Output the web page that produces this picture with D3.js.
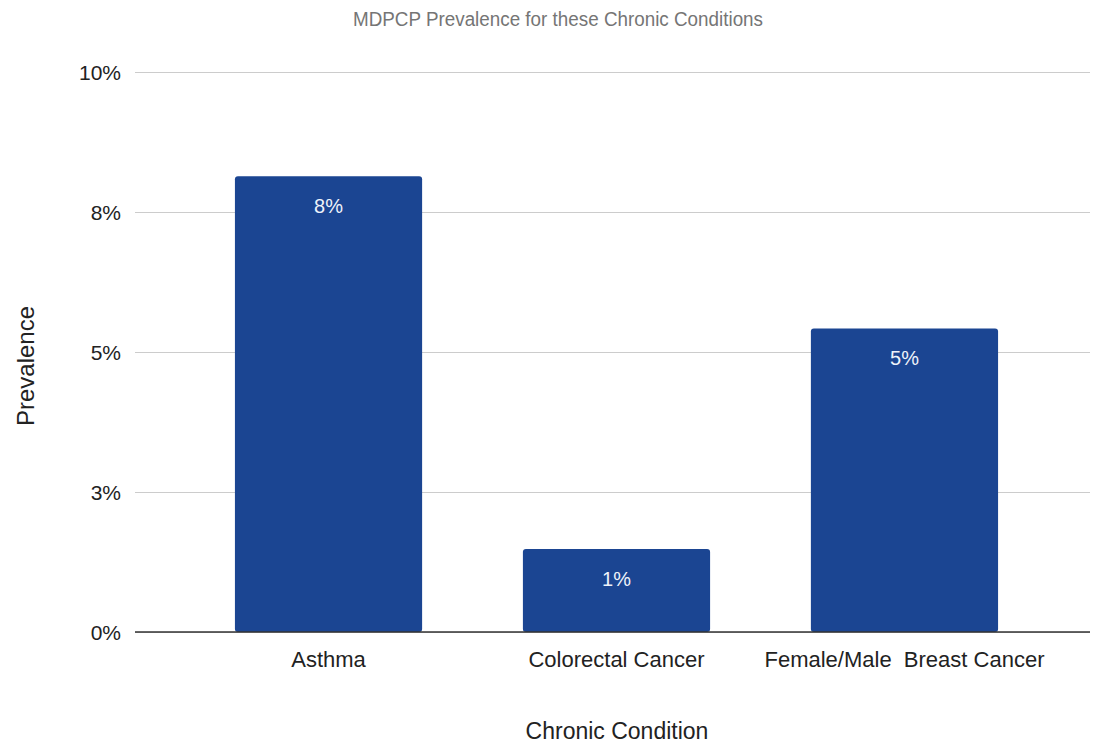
<!DOCTYPE html>
<html>
<head>
<meta charset="utf-8">
<script src="https://cdn.jsdelivr.net/npm/d3@7"></script>
<style>
  html, body { margin: 0; padding: 0; background: #fff; }
  svg { display: block; font-family: "Liberation Sans", Arial, sans-serif; }
</style>
</head>
<body>
<svg id="chart" width="1100" height="746"></svg>
<script>
const categories = ["Asthma", "Colorectal Cancer", "Female/Male  Breast Cancer"];
const values = [8.14, 1.48, 5.42];
const valueLabels = ["8%", "1%", "5%"];
const yTicks = [0, 2.5, 5, 7.5, 10];
const yTickLabels = ["0%", "3%", "5%", "8%", "10%"];
const title = "MDPCP Prevalence for these Chronic Conditions";
const xTitle = "Chronic Condition";
const yTitle = "Prevalence";

const svg = d3.select("#chart");
const plotLeft = 135, plotRight = 1090, plotTop = 72, plotBottom = 632;

const y = d3.scaleLinear().domain([0, 10]).range([plotBottom, plotTop]);
const x = d3.scaleBand().domain(categories).range([135, 1098])
  .paddingInner(0.35).paddingOuter(0.347);

// gridlines + tick labels
const yAxis = d3.axisLeft(y).tickValues(yTicks)
  .tickFormat((d, i) => yTickLabels[i])
  .tickSize(-(plotRight - plotLeft)).tickPadding(14);
const gy = svg.append("g").attr("transform", `translate(${plotLeft},0)`).call(yAxis);
gy.select(".domain").remove();
gy.selectAll(".tick line").attr("stroke", "#cccccc").attr("stroke-width", 1.2);
gy.selectAll(".tick text").attr("fill", "#222").attr("font-size", 21)
  .attr("font-family", "Liberation Sans, Arial, sans-serif").attr("dy", "0.35em");

// bars
svg.append("g").selectAll("rect").data(categories).join("rect")
  .attr("x", d => x(d))
  .attr("y", (d, i) => y(values[i]))
  .attr("width", x.bandwidth())
  .attr("height", (d, i) => y(0) - y(values[i]))
  .attr("rx", 3)
  .attr("fill", "#1b4592");

// value labels
svg.append("g").selectAll("text").data(categories).join("text")
  .attr("x", d => x(d) + x.bandwidth() / 2)
  .attr("y", (d, i) => y(values[i]) + 37)
  .attr("text-anchor", "middle")
  .attr("fill", "#eef2fa")
  .attr("font-size", 20)
  .text((d, i) => valueLabels[i]);

// baseline
svg.append("line")
  .attr("x1", plotLeft).attr("x2", plotRight)
  .attr("y1", y(0)).attr("y2", y(0))
  .attr("stroke", "#333").attr("stroke-width", 1.6);

// x axis labels
const xAxis = d3.axisBottom(x).tickSize(0).tickPadding(0);
const gx = svg.append("g").attr("transform", `translate(0,${plotBottom})`).call(xAxis);
gx.select(".domain").remove();
gx.selectAll(".tick text").attr("font-size", 22).attr("fill", "#222")
  .attr("font-family", "Liberation Sans, Arial, sans-serif")
  .attr("dy", null).attr("y", 35).style("white-space", "pre");

// titles
svg.append("text").attr("x", 558).attr("y", 26).attr("text-anchor", "middle")
  .attr("font-size", 20).attr("fill", "#757575")
  .attr("textLength", 410).attr("lengthAdjust", "spacingAndGlyphs")
  .text(title);

svg.append("text").attr("x", 617).attr("y", 739).attr("text-anchor", "middle")
  .attr("font-size", 23).attr("fill", "#222").text(xTitle);

svg.append("text").attr("transform", "translate(34,366) rotate(-90)")
  .attr("text-anchor", "middle").attr("font-size", 24).attr("fill", "#222").text(yTitle);
</script>
</body>
</html>
